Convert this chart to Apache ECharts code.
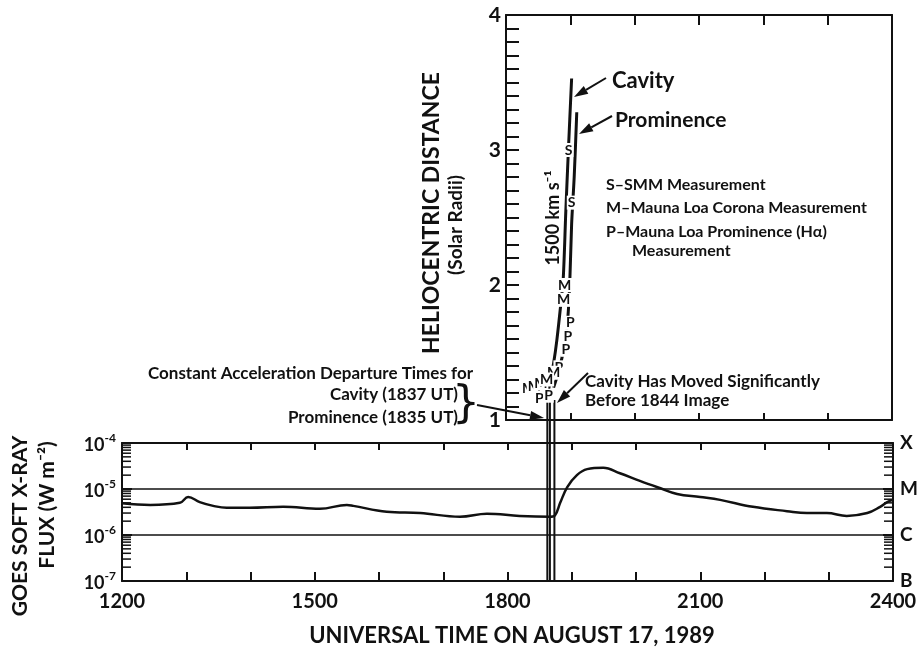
<!DOCTYPE html>
<html><head><meta charset="utf-8">
<script src="https://cdn.jsdelivr.net/npm/echarts@6/dist/echarts.min.js"></script>
<style>html,body{margin:0;padding:0;background:#fff}#c{width:923px;height:650px}</style>
</head><body><div id="c"></div>
<script>
const FONT = 'Lato';
const INK = '#111';

// ---- Lower panel: GOES soft X-ray flux (time in decimal hours UT) ----
const fluxTimes = [12.00,12.44,12.90,13.03,13.21,13.42,13.63,13.99,14.51,15.08,15.50,15.60,16.12,16.64,17.26,17.68,18.19,18.66,18.74,18.82,18.93,19.08,19.24,19.49,19.75,20.06,20.37,20.64,21.00,21.31,21.82,22.35,22.66,22.97,23.28,23.60,23.80,23.91,24.00];
const fluxValues = [4.9e-6,4.5e-6,5.0e-6,6.7e-6,5.2e-6,4.3e-6,3.9e-6,3.9e-6,4.1e-6,3.7e-6,4.5e-6,4.3e-6,3.2e-6,3.0e-6,2.5e-6,2.9e-6,2.6e-6,2.5e-6,2.7e-6,5.0e-6,1.1e-5,2.0e-5,2.7e-5,2.9e-5,2.2e-5,1.5e-5,1.05e-5,7.8e-6,6.7e-6,5.8e-6,4.1e-6,3.3e-6,3.0e-6,3.0e-6,2.6e-6,3.0e-6,4.1e-6,5.2e-6,5.8e-6];
const xTickLabels = {12:'1200',15:'1500',18:'1800',21:'2100',24:'2400'};
const classLabels = {'-7':'B','-6':'C','-5':'M','-4':'X'};
const minorMultipliers = [2,3,4,5,6,7,8,9];
const decades = [-7,-6,-5];

// ---- Upper panel: heliocentric distance (solar radii) ----
const cavityTimes = [18.66,18.70,18.74,18.79,18.85,18.89,18.93,18.97,19.02];
const cavityR     = [1.22,1.32,1.42,1.59,1.85,2.05,2.55,3.00,3.53];
const promTimes   = [18.74,18.80,18.86,18.92,18.96,18.99,19.02,19.06,19.10];
const promR       = [1.24,1.33,1.44,1.58,1.75,2.00,2.45,2.80,3.28];
const markTimes = [18.973,19.02,18.91,18.895,19.00,18.96,18.93,18.82,18.74,18.35,18.44,18.54,18.63,18.52,18.66];
const markR     = [3.00,2.61,2.00,1.89,1.72,1.62,1.52,1.39,1.35,1.23,1.25,1.27,1.30,1.16,1.18];
const markText  = ['S','S','M','M','P','P','P','P','M','M','M','M','M','P','P'];
const departureTimes = [18.62,18.66,18.73];

const minorTicks = [];
decades.forEach(d => minorMultipliers.forEach(m => minorTicks.push([12, m * Math.pow(10, d)])));

function zip(a, b) { return a.map((v, i) => [v, b[i]]); }

function arrow(x1, y1, x2, y2) {
  const ang = Math.atan2(y2 - y1, x2 - x1), L = 14, W = 4.5;
  const bx = x2 - L * Math.cos(ang), by = y2 - L * Math.sin(ang);
  const px = -Math.sin(ang) * W, py = Math.cos(ang) * W;
  return [
    {type:'line', shape:{x1, y1, x2:bx, y2:by}, style:{stroke:INK, lineWidth:2}},
    {type:'polygon', shape:{points:[[x2,y2],[bx+px,by+py],[bx-px,by-py]]}, style:{fill:INK}}
  ];
}
function txt(text, x, y, size, opt) {
  opt = opt || {};
  return {type:'text', x, y, rotation: opt.rot || 0,
    style:{text, fill:INK, font:`bold ${size}px ${opt.font || FONT}`, align: opt.align || 'left', verticalAlign:'middle'}};
}

const axisLineBold = {show:true, lineStyle:{color:INK, width:2}};
const option = {
  backgroundColor:'#fff',
  animation:false,
  grid:[
    {left:506, right:31, top:15, height:405},
    {left:122, right:30, top:443, height:138},
    {left:122, right:30, top:400, height:181}
  ],
  xAxis:[
    {gridIndex:0, type:'value', min:18, max:24, interval:1, axisLine:axisLineBold,
     axisTick:{inside:true, length:7, lineStyle:{color:INK, width:2}}, axisLabel:{show:false}, splitLine:{show:false}},
    {gridIndex:0, type:'value', position:'top', min:18, max:24, interval:1, axisLine:axisLineBold,
     axisTick:{inside:true, length:10, lineStyle:{color:INK, width:2}}, axisLabel:{show:false}, splitLine:{show:false}},
    {gridIndex:1, type:'value', min:12, max:24, interval:1, axisLine:axisLineBold,
     axisTick:{inside:true, length:9, lineStyle:{color:INK, width:2}},
     axisLabel:{margin:11, color:INK, fontFamily:FONT, fontWeight:'bold', fontSize:20,
       formatter: v => xTickLabels[v] || ''}, splitLine:{show:false}},
    {gridIndex:1, type:'value', position:'top', min:12, max:24, interval:1, axisLine:axisLineBold,
     axisTick:{inside:true, length:7, lineStyle:{color:INK, width:2}}, axisLabel:{show:false}, splitLine:{show:false}},
    {gridIndex:2, type:'value', min:12, max:24, show:false}
  ],
  yAxis:[
    {gridIndex:0, type:'value', min:1, max:4, interval:1, axisLine:axisLineBold,
     axisTick:{inside:true, length:13, lineStyle:{color:INK, width:2}},
     minorTick:{show:true, splitNumber:10, length:13, lineStyle:{color:INK, width:2}},
     axisLabel:{margin:5, color:INK, fontFamily:FONT, fontWeight:'bold', fontSize:21}, splitLine:{show:false}},
    {gridIndex:0, type:'value', position:'right', min:1, max:4, axisLine:axisLineBold,
     axisTick:{show:false}, axisLabel:{show:false}, splitLine:{show:false}},
    {gridIndex:1, type:'log', logBase:10, min:1e-7, max:1e-4, axisLine:axisLineBold,
     axisTick:{inside:true, length:10, lineStyle:{color:INK, width:2}},
     splitLine:{show:true, lineStyle:{color:INK, width:1.5}},
     axisLabel:{margin:6, color:INK,
       formatter: v => '{b|10}{s|' + Math.round(Math.log10(v)) + '}',
       rich:{b:{fontFamily:FONT, fontWeight:'bold', fontSize:18, lineHeight:22, verticalAlign:'bottom'},
             s:{fontFamily:FONT, fontWeight:'bold', fontSize:12, lineHeight:12, verticalAlign:'top'}}}},
    {gridIndex:1, type:'log', logBase:10, position:'right', min:1e-7, max:1e-4, axisLine:axisLineBold,
     axisTick:{inside:true, length:10, lineStyle:{color:INK, width:2}}, splitLine:{show:false},
     axisLabel:{margin:7, color:INK, fontFamily:FONT, fontWeight:'bold', fontSize:19,
       formatter: v => classLabels[String(Math.round(Math.log10(v)))] || ''}},
    {gridIndex:2, type:'value', min:0, max:1, show:false}
  ],
  series:[
    {type:'line', xAxisIndex:0, yAxisIndex:0, data:zip(cavityTimes, cavityR), showSymbol:false, smooth:0.3,
     lineStyle:{color:INK, width:3}},
    {type:'line', xAxisIndex:0, yAxisIndex:0, data:zip(promTimes, promR), showSymbol:false, smooth:0.3,
     lineStyle:{color:INK, width:3}},
    {type:'custom', xAxisIndex:0, yAxisIndex:0, clip:false, silent:true, z:5,
     data: markTimes.map((t, i) => [t, markR[i], i]),
     renderItem:(params, api) => {
       const p = api.coord([api.value(0), api.value(1)]);
       return {type:'text', x:p[0], y:p[1], z2:10,
         style:{text:markText[api.value(2)], fill:INK, font:`bold 14px ${FONT}`, align:'center', verticalAlign:'middle',
           backgroundColor:'#fff', padding:[0,1]}};
     }},
    {type:'line', xAxisIndex:2, yAxisIndex:2, data:zip(fluxTimes, fluxValues), showSymbol:false, smooth:0.4,
     lineStyle:{color:INK, width:2.5}},
    {type:'custom', xAxisIndex:2, yAxisIndex:2, data:minorTicks, clip:false, silent:true,
     renderItem:(params, api) => {
       const v = api.value(1);
       const l = api.coord([12, v]), r = api.coord([24, v]);
       return {type:'group', children:[
         {type:'line', shape:{x1:l[0], y1:l[1], x2:l[0]+9, y2:l[1]}, style:{stroke:INK, lineWidth:1.5}},
         {type:'line', shape:{x1:r[0], y1:r[1], x2:r[0]-9, y2:r[1]}, style:{stroke:INK, lineWidth:1.5}}
       ]};
     }},
    ...departureTimes.map(t => ({type:'line', xAxisIndex:4, yAxisIndex:4, data:[[t,0],[t,1]], showSymbol:false,
      lineStyle:{color:INK, width:2}}))
  ],
  graphic:[
    txt('HELIOCENTRIC DISTANCE', 432, 213, 23, {rot:Math.PI/2, align:'center'}),
    txt('(Solar Radii)', 456, 225, 19, {rot:Math.PI/2, align:'center'}),
    txt('Cavity', 612, 81, 22),
    txt('Prominence', 615, 120, 21),
    txt('1500 km s\u207B\u00B9', 553, 218, 18, {rot:Math.PI/2, align:'center'}),
    txt('S\u2013SMM Measurement', 606, 185, 16),
    txt('M\u2013Mauna Loa Corona Measurement', 606, 208, 16),
    txt('P\u2013Mauna Loa Prominence (H\u03B1)', 606, 232, 16),
    txt('Measurement', 632, 251, 16),
    txt('Constant Acceleration Departure Times for', 473, 374, 17, {align:'right'}),
    txt('Cavity (1837 UT)', 458, 395, 17, {align:'right'}),
    txt('Prominence (1835 UT)', 458, 418, 17, {align:'right'}),
    {type:'text', x:466, y:406, style:{text:'}', fill:INK, font:'normal 44px "DejaVu Sans"', align:'center', verticalAlign:'middle'}},
    txt('Cavity Has Moved Significantly', 585, 382, 17),
    txt('Before 1844 Image', 585, 401, 17),
    txt('GOES SOFT X-RAY', 20, 526, 21, {rot:Math.PI/2, align:'center'}),
    txt('FLUX (W m\u207B\u00B2)', 47, 505, 21, {rot:Math.PI/2, align:'center'}),
    txt('UNIVERSAL TIME ON AUGUST 17, 1989', 512, 636, 22, {align:'center'}),
    ...arrow(606, 78, 574, 97),
    ...arrow(612, 116, 579, 134),
    ...arrow(477, 405, 544, 418),
    ...arrow(588, 373, 557, 403)
  ]
};
echarts.init(document.getElementById('c')).setOption(option);
</script></body></html>
